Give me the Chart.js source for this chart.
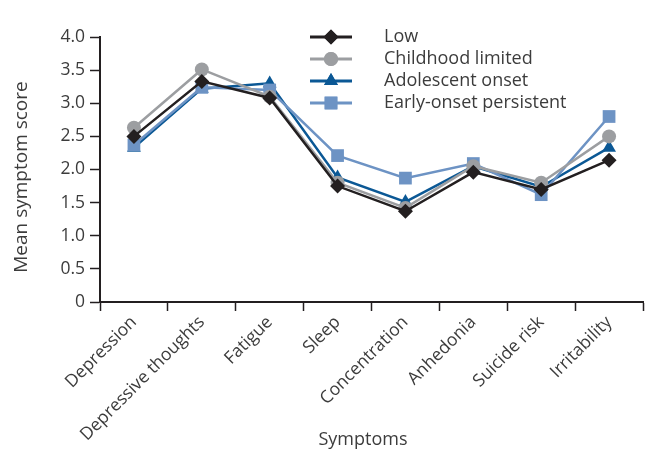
<!DOCTYPE html>
<html>
<head>
<meta charset="utf-8">
<script src="https://cdn.jsdelivr.net/npm/chart.js@4.4.1/dist/chart.umd.min.js"></script>
<style>
html,body{margin:0;padding:0;background:#fff;}
#wrap{width:652px;height:469px;}
</style>
</head>
<body>
<div id="wrap"><canvas id="c" width="652" height="469"></canvas></div>
<script>
const categories = ['Depression','Depressive thoughts','Fatigue','Sleep','Concentration','Anhedonia','Suicide risk','Irritability'];
const lowValues = [2.50, 3.33, 3.08, 1.75, 1.37, 1.96, 1.70, 2.14];
const childhoodValues = [2.63, 3.51, 3.10, 1.80, 1.42, 2.05, 1.80, 2.50];
const adolescentValues = [2.33, 3.22, 3.30, 1.88, 1.51, 2.05, 1.74, 2.33];
const earlyOnsetValues = [2.37, 3.24, 3.20, 2.21, 1.87, 2.09, 1.62, 2.80];
const yTickLabels = ['0','0.5','1.0','1.5','2.0','2.5','3.0','3.5','4.0'];
const seriesNames = ['Low','Childhood limited','Adolescent onset','Early-onset persistent'];
const xAxisTitle = 'Symptoms';
const yAxisTitle = 'Mean symptom score';

const FONT = '"Open Sans", "DejaVu Sans", sans-serif';
const TEXT = '#3c3c3c';
const AXIS = '#231f20';

function ds(label, data, color, style, radius) {
  return {
    label, data,
    borderColor: color, backgroundColor: color,
    pointBackgroundColor: color, pointBorderColor: color,
    pointStyle: style, pointRadius: radius, pointHoverRadius: radius,
    borderWidth: 2.5, pointBorderWidth: 0, tension: 0, fill: false
  };
}

const datasets = [
  ds(seriesNames[0], lowValues, '#231f20', 'rectRot', 7.5),
  ds(seriesNames[1], childhoodValues, '#9c9ea1', 'circle', 7),
  ds(seriesNames[3], earlyOnsetValues, '#6d93c4', 'rect', 9),
  ds(seriesNames[2], adolescentValues, '#0b5895', 'triangle', 8),
];

const legendOrder = [0,1,3,2];

const legendPlugin = {
  id: 'customLegend',
  afterDraw(chart) {
    const ctx = chart.ctx;
    const x0 = 310, x1 = 352, tx = 384;
    const ys = [37, 59, 81, 103];
    legendOrder.forEach((di, i) => {
      const d = chart.data.datasets[di];
      const y = ys[i];
      ctx.save();
      ctx.strokeStyle = d.borderColor;
      ctx.lineWidth = 3;
      ctx.beginPath(); ctx.moveTo(x0, y); ctx.lineTo(x1, y); ctx.stroke();
      ctx.fillStyle = d.borderColor;
      Chart.helpers.drawPoint(ctx, {pointStyle: d.pointStyle, radius: d.pointRadius, rotation: 0, borderWidth: 0}, (x0 + x1) / 2, y);
      ctx.fill();
      ctx.fillStyle = TEXT;
      ctx.font = '18px ' + FONT;
      ctx.textBaseline = 'middle';
      ctx.textAlign = 'left';
      ctx.fillText(d.label, tx, y);
      ctx.restore();
    });
    // axis titles
    ctx.save();
    ctx.fillStyle = TEXT;
    ctx.font = '18px ' + FONT;
    ctx.textAlign = 'center';
    ctx.textBaseline = 'middle';
    ctx.fillText(xAxisTitle, 363, 440);
    ctx.translate(22, 177);
    ctx.rotate(-Math.PI / 2);
    ctx.font = '19px ' + FONT;
    ctx.fillText(yAxisTitle, 0, 0);
    ctx.restore();
  }
};

new Chart(document.getElementById('c'), {
  type: 'line',
  data: { labels: categories, datasets },
  options: {
    responsive: false,
    animation: false,
    events: [],
    layout: { padding: { top: 37, right: 9, left: 0, bottom: 0 } },
    plugins: { legend: { display: false }, tooltip: { enabled: false } },
    scales: {
      x: {
        offset: true,
        grid: { drawOnChartArea: false, offset: true, tickLength: 9, color: AXIS, tickWidth: 1.5 },
        border: { color: AXIS, width: 2 },
        ticks: { minRotation: 45, maxRotation: 45, color: TEXT, font: { family: FONT, size: 17.5 }, padding: 1 },
        afterFit(s) { s.height = 167; }
      },
      y: {
        min: 0, max: 4,
        ticks: {
          stepSize: 0.5, color: TEXT, font: { family: FONT, size: 17.5 }, padding: 5,
          callback: (v, i) => yTickLabels[i]
        },
        grid: { drawOnChartArea: false, tickLength: 10, color: AXIS, tickWidth: 1.5 },
        border: { color: AXIS, width: 2 },
        afterFit(s) { s.width = 100; }
      }
    }
  },
  plugins: [legendPlugin]
});
</script>
</body>
</html>
